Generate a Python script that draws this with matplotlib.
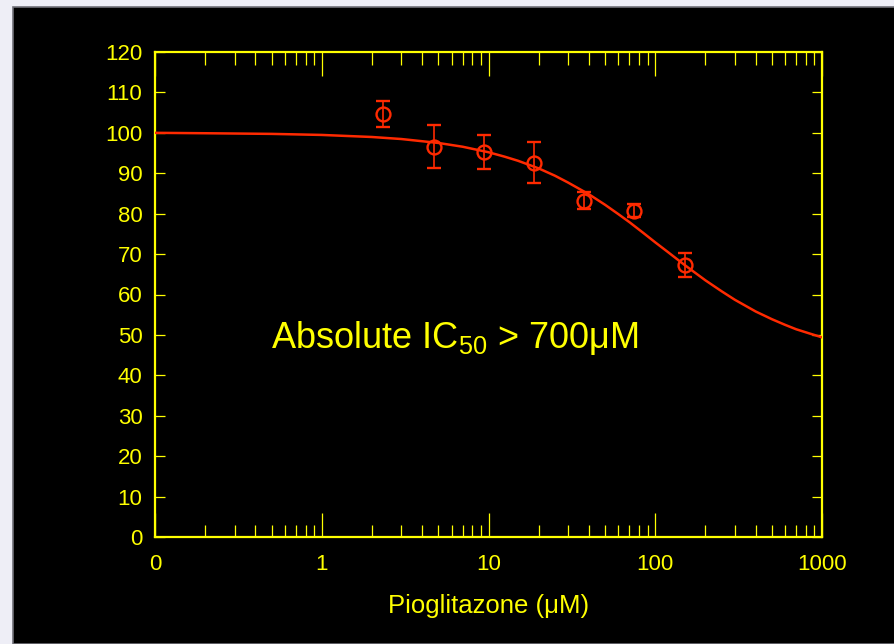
import matplotlib
matplotlib.use("Agg")
import matplotlib.pyplot as plt
from matplotlib.patches import Rectangle
from matplotlib.ticker import FixedLocator, LogLocator, NullFormatter

# Data
conc = [2.34, 4.69, 9.375, 18.75, 37.5, 75, 150]          # uM
response = [104.6, 96.6, 95.2, 92.6, 83.2, 80.7, 67.3]
err = [3.2, 5.4, 4.2, 5.1, 2.1, 1.6, 3.0]

# Fitted curve
curve_x = [0.1, 0.2, 0.5, 1, 2, 3, 5, 7, 10, 12.5, 15, 20, 25, 30, 40, 50, 60,
           70, 85, 100, 120, 150, 200, 250, 300, 400, 500, 600, 700, 850, 1000]
curve_y = [100.0, 99.9, 99.74, 99.48, 98.97, 98.47, 97.5, 96.56, 95.2, 94.1,
           93.1, 91.2, 89.4, 87.7, 84.8, 82.2, 79.9, 77.9, 75.2, 72.9, 70.4,
           67.3, 63.5, 60.8, 58.7, 55.8, 53.9, 52.5, 51.4, 50.3, 49.4]

xtick_vals = [0.1, 1, 10, 100, 1000]
xtick_labels = ["0", "1", "10", "100", "1000"]
ytick_vals = list(range(0, 121, 10))

YEL = "#ffff00"
RED = "#ff2a00"

plt.rcParams["font.family"] = ["Liberation Sans", "DejaVu Sans"]
plt.rcParams["mathtext.fontset"] = "custom"
plt.rcParams["mathtext.rm"] = "Liberation Sans"
plt.rcParams["mathtext.it"] = "Liberation Sans"

fig = plt.figure(figsize=(8.95, 6.44), dpi=100)
fig.patch.set_facecolor("#eeeef6")
bg = Rectangle((13 / 895, 0), 1 - 13 / 895, 1 - 7 / 644,
               transform=fig.transFigure, facecolor="black",
               edgecolor="#707078", linewidth=1.2, zorder=-10)
fig.patches.append(bg)

ax = fig.add_axes([155 / 895, 1 - 537 / 644, 667 / 895, 485 / 644])
ax.set_zorder(1)
ax.set_facecolor("black")
ax.set_xscale("log")
ax.set_xlim(0.1, 1000)
ax.set_ylim(0, 120)

ax.plot(curve_x, curve_y, color=RED, lw=1.8, zorder=3)
ax.errorbar(conc, response, yerr=err, fmt="o", mfc="none", mec=RED,
            ecolor=RED, ms=10, mew=1.7, elinewidth=1.2, capsize=4.8,
            capthick=1.2, zorder=4)

for s in ax.spines.values():
    s.set_color(YEL)
    s.set_linewidth(1.6)

ax.xaxis.set_major_locator(FixedLocator(xtick_vals))
ax.set_xticklabels(xtick_labels)
ax.xaxis.set_minor_locator(LogLocator(base=10, subs=range(2, 10)))
ax.xaxis.set_minor_formatter(NullFormatter())
ax.set_yticks(ytick_vals)

ax.tick_params(axis="x", which="major", direction="in", length=17, width=0.9,
               color=YEL, labelcolor=YEL, labelsize=16, top=True, pad=12)
ax.tick_params(axis="x", which="minor", direction="in", length=9, width=0.9,
               color=YEL, top=True)
ax.tick_params(axis="y", which="major", direction="in", length=7.5, width=0.9,
               color=YEL, labelcolor=YEL, labelsize=16, right=True, pad=9)

ax.set_xlabel("Pioglitazone (\u03bcM)", color=YEL, fontsize=18.5, labelpad=14)

ax.text(0.45, 0.41, "Absolute IC$_{50}$ > 700\u03bcM", transform=ax.transAxes,
        color=YEL, fontsize=26, ha="center", va="center")

fig.savefig("out.png", dpi=100, facecolor=fig.get_facecolor())
